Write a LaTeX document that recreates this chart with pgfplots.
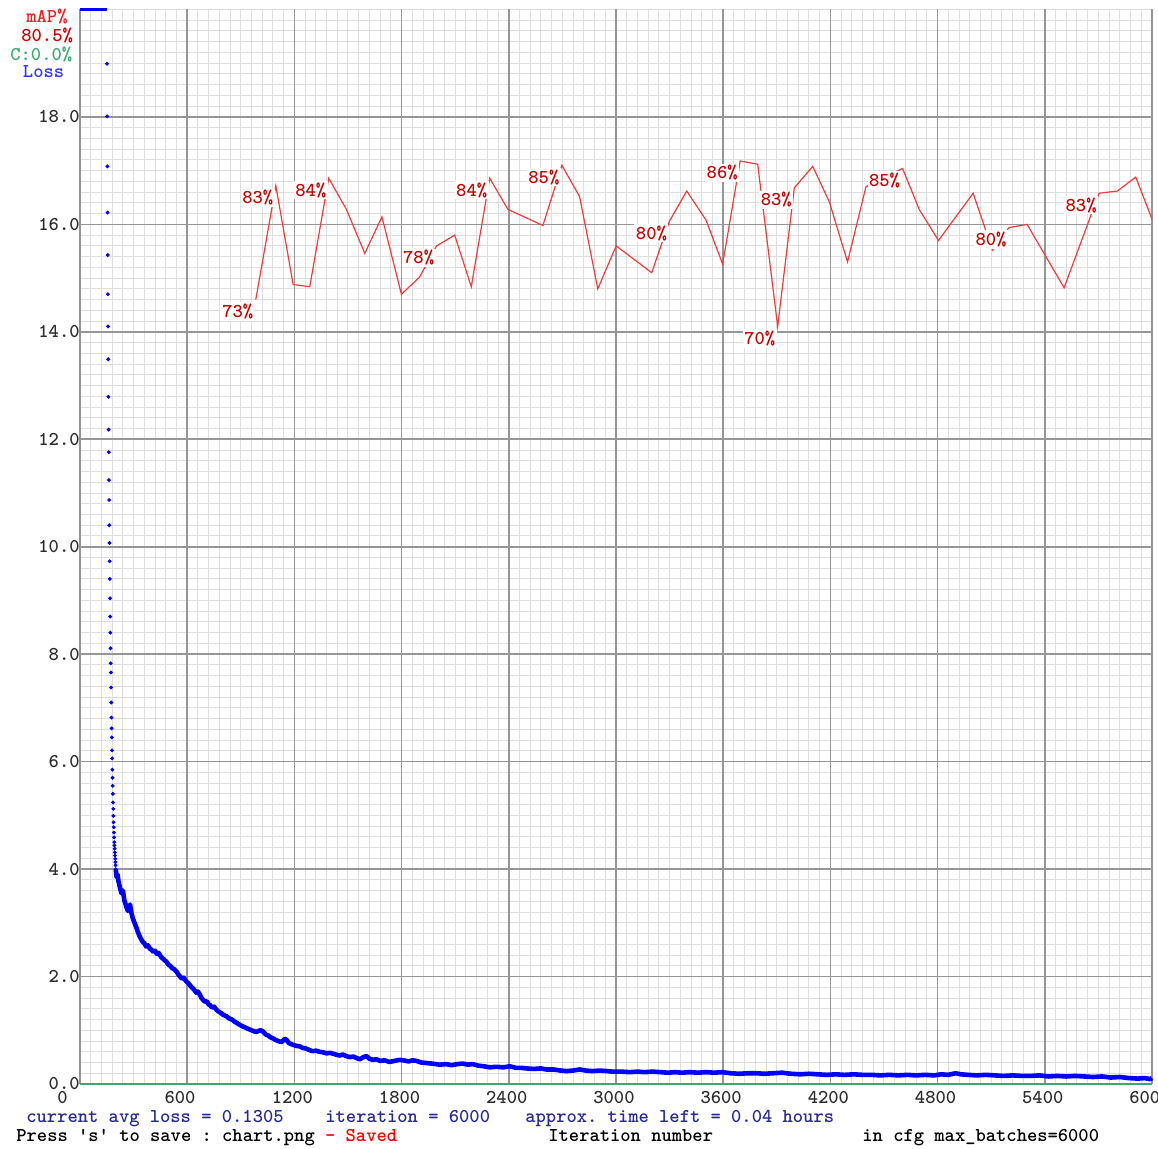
\documentclass[border=0pt]{standalone}
\usepackage{pgfplots}
\usepackage{pgfplotstable}
\pgfplotsset{compat=1.18}
\usepackage{fontspec}
\newfontfamily\hf{lmmonolt10-bold.otf}
\definecolor{lossblue}{RGB}{0,0,255}
\definecolor{mapred}{RGB}{240,60,60}
\definecolor{lblred}{RGB}{200,0,0}
\definecolor{toprd}{RGB}{235,30,30}
\definecolor{cgreen}{RGB}{60,170,110}
\definecolor{txtblue}{RGB}{40,40,150}
\definecolor{majgrid}{RGB}{150,150,150}
\definecolor{mingrid}{RGB}{222,222,222}
\definecolor{ticktxt}{RGB}{45,45,45}
\newcommand{\cf}{\hf\fontsize{9.8pt}{11pt}\selectfont\frenchspacing}

\pgfplotstableread{
iter loss
151 18.99
152 18.01
153 17.08
154 16.22
155 15.43
156 14.70
157 14.10
158 13.49
159 12.79
160 12.18
161 11.76
162 11.24
163 10.87
164 10.40
165 10.07
166 9.73
167 9.40
168 9.04
169 8.70
170 8.40
171 8.11
172 7.83
173 7.66
174 7.38
175 7.10
176 6.82
177 6.62
178 6.45
179 6.21
180 6.06
181 5.85
182 5.70
183 5.55
184 5.40
185 5.24
186 5.12
187 4.99
188 4.87
189 4.78
190 4.68
191 4.59
192 4.50
193 4.44
194 4.38
195 4.31
196 4.25
197 4.19
198 4.13
199 4.07
200 4.00
}\lossdots

\pgfplotstableread{
iter loss
200 4.00
205 3.85
210 3.90
215 3.78
224 3.65
232 3.55
240 3.60
248 3.42
255 3.35
261 3.28
268 3.22
275 3.30
280 3.34
288 3.18
296 3.08
305 3.00
317 2.90
325 2.82
335 2.74
345 2.68
352 2.64
360 2.62
370 2.56
380 2.58
391 2.52
400 2.50
410 2.46
420 2.48
430 2.42
440 2.44
447 2.40
455 2.36
465 2.33
475 2.30
485 2.27
495 2.22
505 2.20
515 2.16
525 2.14
541 2.09
550 2.04
560 2.00
570 1.96
580 1.98
590 1.93
597 1.90
605 1.88
615 1.84
625 1.80
632 1.78
640 1.75
650 1.70
660 1.72
671 1.66
680 1.60
690 1.56
700 1.53
710 1.54
720 1.48
727 1.47
740 1.42
750 1.44
764 1.38
775 1.35
790 1.32
800 1.29
820 1.26
835 1.22
850 1.20
865 1.16
876 1.14
890 1.11
905 1.08
920 1.06
932 1.04
945 1.02
960 1.00
975 0.98
988 0.97
1000 0.99
1010 1.00
1023 0.98
1040 0.92
1055 0.90
1065 0.87
1079 0.85
1095 0.82
1110 0.80
1125 0.78
1135 0.80
1145 0.84
1156 0.82
1170 0.76
1191 0.73
1210 0.71
1230 0.70
1247 0.67
1265 0.66
1285 0.63
1303 0.61
1320 0.62
1340 0.60
1360 0.59
1380 0.57
1400 0.58
1420 0.56
1440 0.54
1454 0.53
1470 0.55
1490 0.52
1510 0.50
1530 0.51
1550 0.48
1566 0.46
1585 0.50
1603 0.52
1620 0.47
1638 0.45
1660 0.46
1680 0.43
1705 0.44
1733 0.41
1760 0.43
1789 0.45
1810 0.44
1840 0.42
1860 0.44
1883 0.43
1910 0.40
1939 0.39
1970 0.38
2013 0.36
2050 0.37
2080 0.35
2110 0.37
2142 0.38
2170 0.36
2198 0.37
2230 0.34
2260 0.33
2293 0.31
2330 0.32
2370 0.31
2405 0.33
2440 0.30
2470 0.30
2498 0.29
2540 0.28
2580 0.29
2610 0.27
2650 0.27
2690 0.25
2722 0.24
2760 0.25
2796 0.27
2830 0.25
2870 0.24
2908 0.25
2950 0.24
2981 0.23
3030 0.23
3076 0.22
3120 0.23
3160 0.22
3204 0.23
3250 0.22
3290 0.21
3330 0.22
3370 0.21
3411 0.22
3460 0.21
3504 0.22
3550 0.21
3596 0.22
3640 0.20
3691 0.19
3740 0.20
3784 0.20
3830 0.19
3880 0.20
3930 0.21
3980 0.19
4030 0.18
4080 0.19
4130 0.18
4180 0.17
4230 0.18
4280 0.17
4330 0.18
4380 0.17
4430 0.17
4480 0.16
4530 0.17
4580 0.16
4630 0.17
4680 0.16
4730 0.17
4780 0.16
4820 0.18
4860 0.17
4900 0.20
4930 0.18
4970 0.17
5020 0.16
5070 0.17
5120 0.16
5170 0.15
5220 0.16
5270 0.15
5320 0.15
5370 0.16
5420 0.14
5470 0.15
5520 0.14
5570 0.15
5620 0.14
5670 0.13
5720 0.14
5770 0.12
5820 0.13
5870 0.11
5920 0.10
5960 0.11
5990 0.09
6000 0.11
}\losscurve

\pgfplotstableread{
iter map
984 73.0
1096 83.6
1193 74.4
1286 74.2
1392 84.3
1491 81.4
1594 77.3
1690 80.7
1799 73.5
1901 75.1
1996 78.0
2097 79.0
2190 74.2
2293 84.3
2395 81.4
2591 79.9
2697 85.5
2796 82.6
2898 74.0
3001 78.0
3200 75.5
3299 80.3
3396 83.1
3504 80.4
3597 76.3
3695 85.9
3793 85.6
3905 70.5
3998 83.4
4101 85.4
4194 82.1
4296 76.5
4399 83.5
4604 85.2
4697 81.4
4805 78.5
4999 82.9
5107 77.6
5200 79.7
5301 80.0
5508 74.1
5704 82.9
5806 83.1
5909 84.4
6000 80.5
}\maptable

\begin{document}
\begin{tikzpicture}[lbl/.style={font=\cf, text=lblred, fill=white, inner sep=0.8pt, xshift=-9pt, yshift=-6pt}]
\begin{axis}[
  at={(40pt,32.5pt)}, anchor=south west,
  scale only axis, width=536pt, height=537.25pt,
  xmin=0, xmax=6000, ymin=0, ymax=20,
  clip=false,
  axis line style={draw=none},
  xtick={0,60,...,6000},
  xticklabels={},
  ytick={0,0.2,...,20},
  yticklabels={},
  major tick length=0pt, minor tick length=0pt,
  grid=major,
  major grid style={mingrid, line width=0.5pt},
  extra x ticks={0,600,...,6000},
  extra x tick labels={0,600,1200,1800,2400,3000,3600,4200,4800,5400,6000},
  extra y ticks={0,2,...,18},
  extra y tick labels={0.0,2.0,4.0,6.0,8.0,10.0,12.0,14.0,16.0,18.0},
  extra tick style={grid=major, major grid style={majgrid, line width=0.8pt}, major tick length=0pt},
  extra x tick style={xticklabel style={font=\cf, text=ticktxt, anchor=north west, inner sep=0pt, xshift=-11.5pt, yshift=-3.5pt}},
  extra y tick style={yticklabel style={font=\cf, text=ticktxt, anchor=east, inner sep=0pt}},
]
\addplot[lossblue, line width=1.5pt] coordinates {(0,20) (150,20)};
\addplot[only marks, mark=*, mark size=0.75pt, lossblue] table[x=iter, y=loss]{\lossdots};
\addplot[lossblue, line width=2.3pt, line join=round] table[x=iter, y=loss]{\losscurve};
\addplot[cgreen, line width=1pt] coordinates {(0,0) (6000,0)};
\addplot[mapred, line width=0.6pt] table[x=iter, y expr=\thisrow{map}/5]{\maptable};
\node[lbl] at (axis cs:984,14.60) {73\%};
\node[lbl] at (axis cs:1096,16.72) {83\%};
\node[lbl] at (axis cs:1392,16.86) {84\%};
\node[lbl] at (axis cs:1996,15.60) {78\%};
\node[lbl] at (axis cs:2293,16.86) {84\%};
\node[lbl] at (axis cs:2697,17.10) {85\%};
\node[lbl] at (axis cs:3299,16.06) {80\%};
\node[lbl] at (axis cs:3695,17.18) {86\%};
\node[lbl] at (axis cs:3905,14.10) {70\%};
\node[lbl] at (axis cs:3998,16.68) {83\%};
\node[lbl] at (axis cs:4604,17.04) {85\%};
\node[lbl] at (axis cs:5200,15.94) {80\%};
\node[lbl] at (axis cs:5704,16.58) {83\%};
\end{axis}
\node[anchor=base west, font=\cf, text=toprd, inner sep=0pt] at (13pt,563pt) {mAP\%};
\node[anchor=base west, font=\cf, text=lblred, inner sep=0pt] at (10.5pt,553.5pt) {80.5\%};
\node[anchor=base west, font=\cf, text=cgreen, inner sep=0pt] at (5pt,544pt) {C:0.0\%};
\node[anchor=base west, font=\cf, text=lossblue!80!white, inner sep=0pt] at (11.3pt,535.5pt) {Loss};
\node[anchor=base west, font=\cf, text=txtblue, inner sep=0pt] at (13pt,13pt) {current avg loss = 0.1305};
\node[anchor=base west, font=\cf, text=txtblue, inner sep=0pt] at (162.5pt,13pt) {iteration = 6000};
\node[anchor=base west, font=\cf, text=txtblue, inner sep=0pt] at (262.5pt,13pt) {approx. time left = 0.04 hours};
\node[anchor=base west, font=\cf, text=black, inner sep=0pt] at (8pt,3.5pt) {Press \textquotesingle s\textquotesingle{} to save : chart.png \textcolor{red}{- Saved}};
\node[anchor=base west, font=\cf, text=black, inner sep=0pt] at (274pt,3.5pt) {Iteration number};
\node[anchor=base west, font=\cf, text=black, inner sep=0pt] at (431pt,3.5pt) {in cfg max\_batches=6000};
\pgfresetboundingbox
\path[use as bounding box] (0,0) rectangle (579pt,574.5pt);
\end{tikzpicture}
\end{document}
